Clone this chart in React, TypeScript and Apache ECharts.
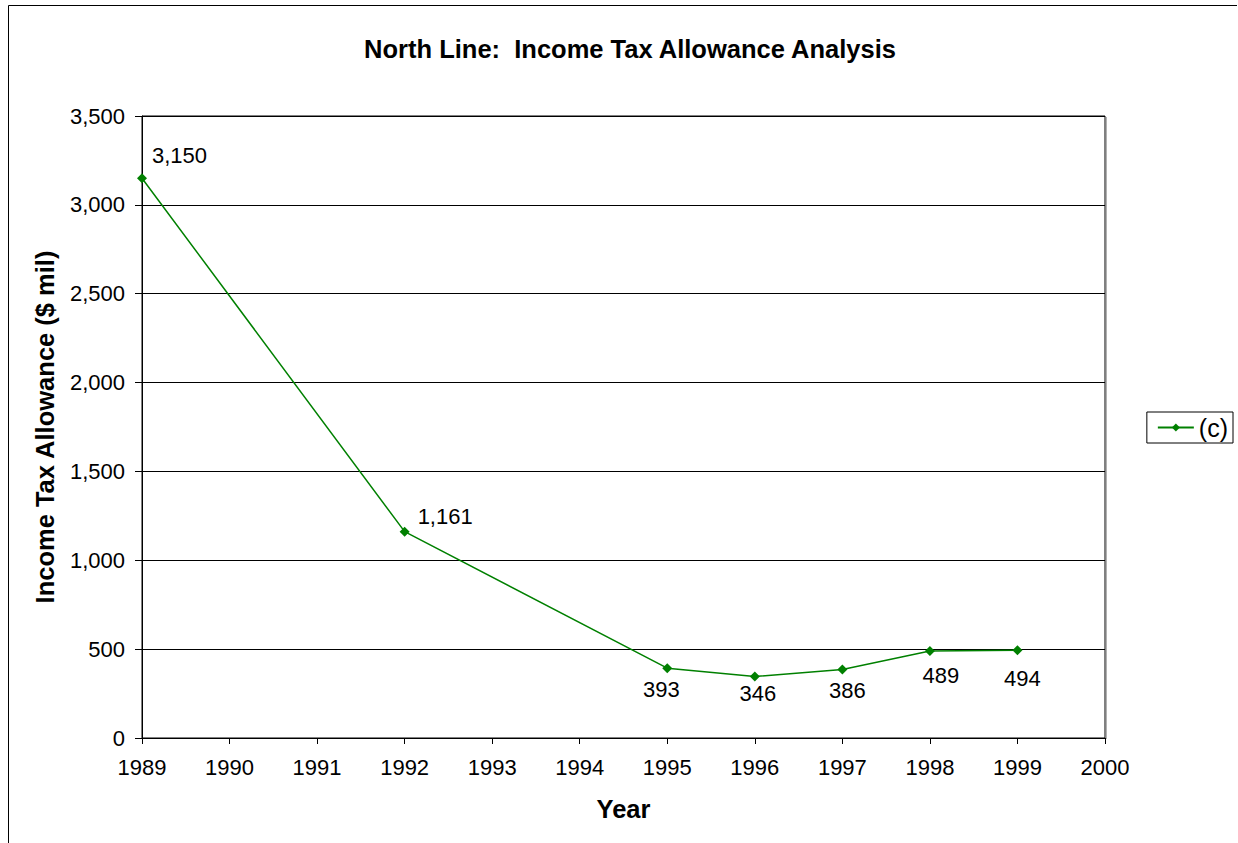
import React, { useEffect, useRef } from "react";
import * as echarts from "echarts";

// Income tax allowance by year ($ mil)
const years: number[] = [1989, 1992, 1995, 1996, 1997, 1998, 1999];
const allowance: number[] = [3150, 1161, 393, 346, 386, 489, 494];
const seriesName = "(c)";
const yTicks: number[] = [0, 500, 1000, 1500, 2000, 2500, 3000, 3500];

// Per-point label placement (position + pixel offset)
const labelPlacement: { position: string; offset: [number, number] }[] = [
  { position: "right", offset: [0, -23] },
  { position: "right", offset: [3, -15] },
  { position: "bottom", offset: [-6, 0] },
  { position: "bottom", offset: [3, -4] },
  { position: "bottom", offset: [5, 0] },
  { position: "bottom", offset: [11, 3] },
  { position: "bottom", offset: [5, 7] },
];

const FONT = '"Liberation Sans", Arial, Helvetica, sans-serif';
const GREEN = "#008000";

export default function App() {
  const ref = useRef<HTMLDivElement>(null);

  useEffect(() => {
    document.body.style.margin = "0";
    if (!ref.current) return;
    const chart = echarts.init(ref.current, undefined, { renderer: "svg" });

    const data = years.map((y, i) => ({
      value: [y, allowance[i]],
      label: {
        show: true,
        position: labelPlacement[i].position,
        offset: labelPlacement[i].offset,
      },
    }));

    chart.setOption({
      animation: false,
      backgroundColor: "#ffffff",
      textStyle: { fontFamily: FONT },
      title: {
        text: "North Line:  Income Tax Allowance Analysis",
        left: 625,
        textAlign: "center",
        top: 31,
        textStyle: { fontFamily: FONT, fontSize: 25.5, fontWeight: "bold", color: "#000" },
      },
      legend: {
        right: 5,
        top: 412,
        orient: "vertical",
        data: [seriesName],
        borderColor: "#000",
        borderWidth: 1,
        padding: [3, 5, 3, 10],
        itemWidth: 36,
        itemHeight: 10,
        itemGap: 4,
        textStyle: { fontFamily: FONT, fontSize: 25, color: "#000", padding: [0, 0, 0, 0] },
      },
      grid: {
        left: 142,
        right: 133,
        top: 116,
        bottom: 105,
        show: true,
        borderColor: "#000",
        borderWidth: 1,
        containLabel: false,
      },
      xAxis: {
        type: "value",
        min: 1989,
        max: 2000,
        interval: 1,
        name: "Year",
        nameLocation: "middle",
        nameGap: 58,
        nameTextStyle: { fontFamily: FONT, fontSize: 25.5, fontWeight: "bold", color: "#000" },
        axisLine: { show: true, lineStyle: { color: "#000", width: 1 } },
        axisTick: { show: true, inside: false, length: 6, lineStyle: { color: "#000" } },
        axisLabel: {
          margin: 18,
          fontFamily: FONT,
          fontSize: 22,
          color: "#000",
          formatter: (v: number) => String(v),
        },
        splitLine: { show: false },
      },
      yAxis: {
        type: "value",
        min: yTicks[0],
        max: yTicks[yTicks.length - 1],
        interval: yTicks[1] - yTicks[0],
        name: "Income Tax Allowance ($ mil)",
        nameLocation: "middle",
        nameGap: 84,
        nameTextStyle: { fontFamily: FONT, fontSize: 25.5, fontWeight: "bold", color: "#000" },
        axisLine: { show: true, lineStyle: { color: "#000", width: 1 } },
        axisTick: { show: true, inside: false, length: 7, lineStyle: { color: "#000" } },
        axisLabel: {
          margin: 17,
          fontFamily: FONT,
          fontSize: 22,
          color: "#000",
          formatter: (v: number) => v.toLocaleString("en-US"),
        },
        splitLine: { show: true, lineStyle: { color: "#000", width: 1 } },
      },
      series: [
        {
          name: seriesName,
          type: "line",
          data,
          symbol: "diamond",
          symbolSize: 10,
          lineStyle: { color: GREEN, width: 1.5 },
          itemStyle: { color: GREEN },
          label: {
            show: true,
            fontFamily: FONT,
            fontSize: 22,
            color: "#000",
            formatter: (p: any) => (p.value[1] as number).toLocaleString("en-US"),
          },
        },
      ],
      graphic: [
        {
          type: "polyline",
          shape: { points: [[8.5, 850], [8.5, 5.5], [1237, 5.5]] },
          style: { stroke: "#000", lineWidth: 1, fill: "none" },
          silent: true,
        },
        {
          type: "line",
          shape: { x1: 1106.5, y1: 117, x2: 1106.5, y2: 739 },
          style: { stroke: "#b0b0b0", lineWidth: 1 },
          silent: true,
        },
      ],
    });

    return () => chart.dispose();
  }, []);

  return (
    <div
      ref={ref}
      style={{ position: "absolute", left: 0, top: 0, width: 1238, height: 843 }}
    />
  );
}
